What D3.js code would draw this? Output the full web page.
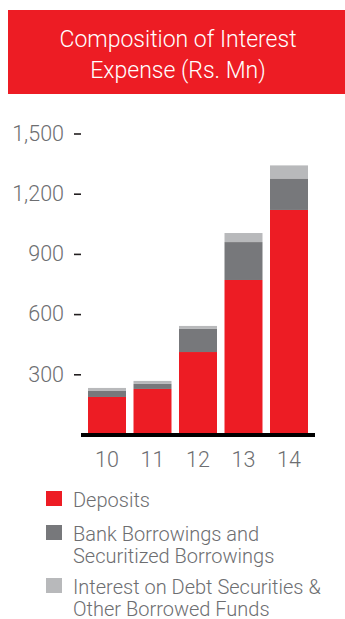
<!DOCTYPE html>
<html>
<head>
<meta charset="utf-8">
<script src="https://cdn.jsdelivr.net/npm/d3@7"></script>
<style>
  html, body { margin: 0; padding: 0; background: #ffffff; }
  svg { display: block; }
  text { font-family: Roboto, "Liberation Sans", sans-serif; font-weight: 300; }
</style>
</head>
<body>
<div id="chart"></div>
<script>
const years = ["10", "11", "12", "13", "14"];
const deposits = [187, 227, 411, 770, 1119];
const bankBorrowings = [30, 25, 115, 189, 157];
const otherFunds = [15, 15, 15, 45, 65];
const yTicks = [300, 600, 900, 1200, 1500];
const seriesNames = ["Deposits", "Bank Borrowings and\nSecuritized Borrowings", "Interest on Debt Securities &\nOther Borrowed Funds"];
const seriesColors = ["#ed1c24", "#77787b", "#b8b9bb"];
const titleLines = ["Composition of Interest", "Expense (Rs. Mn)"];

const W = 345, H = 619;
const svg = d3.select("#chart").append("svg").attr("width", W).attr("height", H);

// Title banner
svg.append("rect").attr("x", 8).attr("y", 10).attr("width", 337).attr("height", 84).attr("fill", "#ed1c24");
svg.selectAll("text.title").data(titleLines).join("text")
  .attr("class", "title")
  .attr("x", 178)
  .attr("y", (d, i) => 46.5 + i * 31)
  .attr("text-anchor", "middle")
  .attr("fill", "#ffffff")
  .attr("font-size", 23)
  .text(d => d);

// Scales
const x = d3.scaleBand().domain(years).range([84.25, 311.75]).paddingInner(0.165).paddingOuter(0.0825);
const y = d3.scaleLinear().domain([0, 1500]).range([434.5, 133.5]);

// Stack data
const rows = years.map((yr, i) => ({ year: yr, s0: deposits[i], s1: bankBorrowings[i], s2: otherFunds[i] }));
const stack = d3.stack().keys(["s0", "s1", "s2"])(rows);

svg.append("g").selectAll("g").data(stack).join("g")
  .attr("fill", (d, i) => seriesColors[i])
  .selectAll("rect").data(d => d).join("rect")
  .attr("x", d => x(d.data.year))
  .attr("width", x.bandwidth())
  .attr("y", d => y(d[1]))
  .attr("height", d => y(d[0]) - y(d[1]));

// Y axis (ticks only)
const yAxis = d3.axisLeft(y).tickValues(yTicks).tickFormat(d3.format(",")).tickSize(7).tickPadding(10);
const gy = svg.append("g").attr("transform", "translate(81,0)").call(yAxis);
gy.select(".domain").remove();
gy.selectAll(".tick line").attr("stroke", "#231f20").attr("stroke-width", 1.6);
gy.selectAll(".tick text").attr("fill", "#6d6e71").attr("font-size", 21.5)
  .style("font-family", "Roboto, 'Liberation Sans', sans-serif").style("font-weight", 300);

// Baseline
svg.append("line").attr("x1", 81).attr("x2", 315).attr("y1", y(0) + 0.5).attr("y2", y(0) + 0.5)
  .attr("stroke", "#000000").attr("stroke-width", 4);

// X axis labels
const xAxis = d3.axisBottom(x).tickSize(0).tickPadding(0);
const gx = svg.append("g").attr("transform", "translate(0,452)").call(xAxis);
gx.select(".domain").remove();
gx.selectAll(".tick text").attr("fill", "#6d6e71").attr("font-size", 21.5).attr("dy", "0.71em")
  .style("font-family", "Roboto, 'Liberation Sans', sans-serif").style("font-weight", 300);

// Legend
const legendY = [491, 525, 578];
const leg = svg.append("g").selectAll("g").data(seriesNames).join("g")
  .attr("transform", (d, i) => `translate(46,${legendY[i]})`);
leg.append("rect").attr("width", 16).attr("height", 15).attr("fill", (d, i) => seriesColors[i]);
leg.each(function(d) {
  const t = d3.select(this).append("text").attr("fill", "#6d6e71").attr("font-size", 20);
  d.split("\n").forEach((line, j) => {
    t.append("tspan").attr("x", 27).attr("y", 15.5 + j * 22).text(line);
  });
});
</script>
</body>
</html>
